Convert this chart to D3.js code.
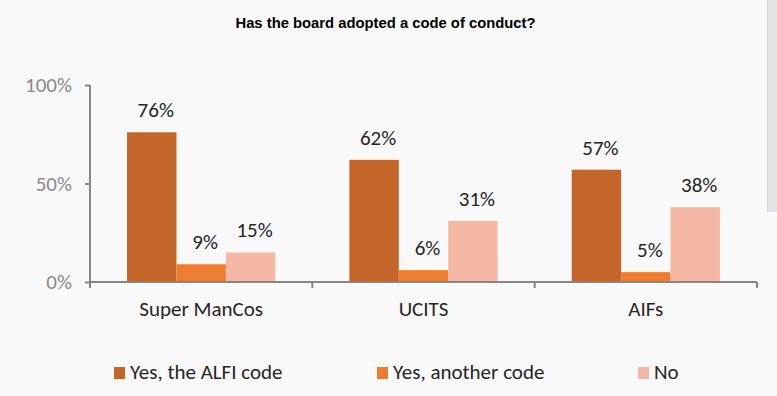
<!DOCTYPE html>
<html>
<head>
<meta charset="utf-8">
<script src="https://cdn.jsdelivr.net/npm/d3@7/dist/d3.min.js"></script>
<style>
  html, body { margin: 0; padding: 0; background: #f9f9f9; }
  svg { display: block; }
</style>
</head>
<body>
<svg id="chart" width="777" height="396"></svg>
<script>
const title = "Has the board adopted a code of conduct?";
const categories = ["Super ManCos", "UCITS", "AIFs"];
const seriesNames = ["Yes, the ALFI code", "Yes, another code", "No"];
const alfiCode = [76, 62, 57];
const anotherCode = [9, 6, 5];
const noCode = [15, 31, 38];
const yTicks = [0, 50, 100];
const colors = ["#C4652A", "#ED7D31", "#F4B8A5"];

(function () {
const seriesValues = [alfiCode, anotherCode, noCode];
const data = categories.map((c, i) => ({
  category: c,
  values: seriesNames.map((s, j) => ({ series: s, value: seriesValues[j][i] }))
}));

const svg = d3.select("#chart");
const W = 777, H = 396;
svg.append("rect").attr("width", W).attr("height", H).attr("fill", "#f9f9f9");
// right-side grey strip
svg.append("rect").attr("x", 767).attr("y", 0).attr("width", 10).attr("height", 212).attr("fill", "#e3e3e5");
svg.append("line").attr("x1", 767.5).attr("x2", 767.5).attr("y1", 0).attr("y2", 212).attr("stroke", "#d6d6d8");

const mLeft = 90, mRight = 757, mTop = 85, mBottom = 282;
const labelFont = "Carlito, Lato, 'Open Sans', sans-serif";
const fs = 21;

svg.append("text")
  .attr("x", 385.5).attr("y", 28)
  .attr("text-anchor", "middle")
  .attr("font-family", "'Liberation Sans', Arial, sans-serif")
  .attr("font-weight", "bold")
  .attr("font-size", 14.8)
  .attr("fill", "#000")
  .text(title);

const x0 = d3.scaleBand().domain(categories).range([mLeft, mRight]).paddingInner(0).paddingOuter(0);
const x1 = d3.scaleBand().domain(seriesNames).range([0, x0.bandwidth()]).paddingInner(0).paddingOuter(0.75);
const y = d3.scaleLinear().domain([0, 100]).range([mBottom, mTop]);
const color = d3.scaleOrdinal().domain(seriesNames).range(colors);

// bars
const groups = svg.append("g").selectAll("g").data(data).join("g")
  .attr("transform", d => `translate(${x0(d.category)},0)`);
groups.selectAll("rect").data(d => d.values).join("rect")
  .attr("x", d => x1(d.series))
  .attr("y", d => y(d.value))
  .attr("width", x1.bandwidth())
  .attr("height", d => y(0) - y(d.value))
  .attr("fill", d => color(d.series));
groups.selectAll("text").data(d => d.values).join("text")
  .attr("x", d => x1(d.series) + x1.bandwidth() / 2 + 4)
  .attr("y", d => y(d.value) - 15)
  .attr("text-anchor", "middle")
  .attr("font-family", labelFont)
  .attr("font-size", fs)
  .attr("fill", "#262626")
  .text(d => d.value + "%");

// y axis
const yAxis = svg.append("g").attr("transform", `translate(${mLeft},0)`)
  .call(d3.axisLeft(y).tickValues(yTicks).tickFormat(d => d + "%").tickSize(5).tickPadding(13));
yAxis.select(".domain").attr("stroke", "#868686").attr("stroke-width", 2)
  .attr("d", `M0,${mTop}V${mBottom + 6}`);
yAxis.selectAll(".tick line").attr("stroke", "#868686").attr("stroke-width", 2);
yAxis.selectAll(".tick text")
  .attr("font-family", labelFont).attr("font-size", fs).attr("fill", "#8a8a8a");

// x axis
const bounds = categories.map(c => x0(c)).concat([mRight]);
const xg = svg.append("g");
xg.append("line").attr("x1", mLeft).attr("x2", mRight).attr("y1", mBottom).attr("y2", mBottom)
  .attr("stroke", "#868686").attr("stroke-width", 2);
xg.selectAll("line.tk").data(bounds).join("line").attr("class", "tk")
  .attr("x1", d => d).attr("x2", d => d).attr("y1", mBottom).attr("y2", mBottom + 6)
  .attr("stroke", "#868686").attr("stroke-width", 2);
xg.selectAll("text").data(categories).join("text")
  .attr("x", d => x0(d) + x0.bandwidth() / 2)
  .attr("y", 316)
  .attr("text-anchor", "middle")
  .attr("font-family", labelFont)
  .attr("font-size", fs)
  .attr("fill", "#262626")
  .text(d => d);

// legend
const legendX = [114, 377, 638];
const lg = svg.append("g").selectAll("g").data(seriesNames).join("g")
  .attr("transform", (d, i) => `translate(${legendX[i]},366)`);
lg.append("rect").attr("x", 0).attr("y", 1).attr("width", 11).attr("height", 12).attr("fill", d => color(d));
lg.append("text").attr("x", 16).attr("y", 13)
  .attr("font-family", labelFont).attr("font-size", fs).attr("fill", "#262626")
  .text(d => d);
})();
</script>
</body>
</html>
